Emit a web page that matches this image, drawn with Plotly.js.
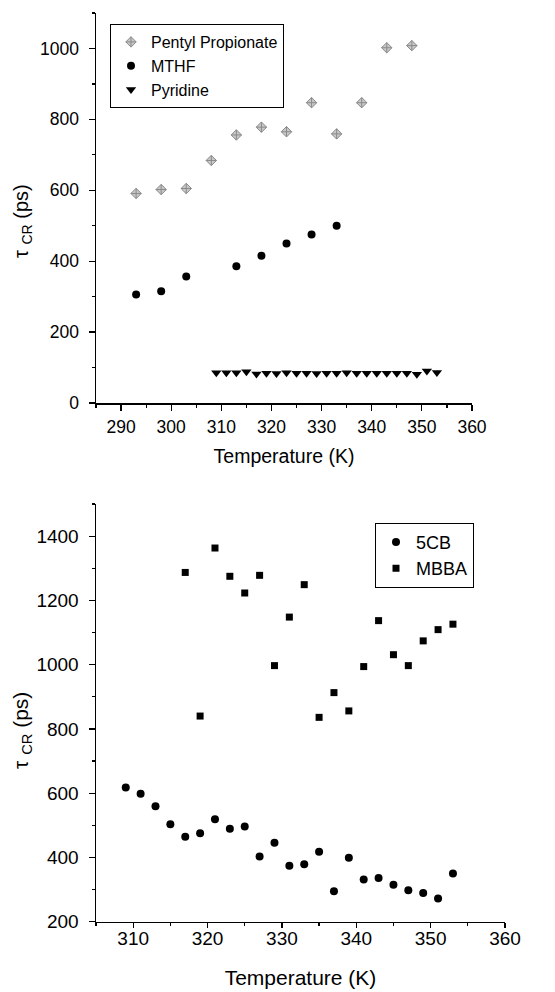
<!DOCTYPE html>
<html>
<head>
<meta charset="utf-8">
<script src="https://cdn.plot.ly/plotly-3.0.1.min.js"></script>
<style>html,body{margin:0;padding:0;background:#fff;}#chart{width:555px;height:992px;}</style>
</head>
<body>
<div id="chart"></div>
<script>
// ---- Top panel data ----
const pentylT = [293, 298, 303, 308, 313, 318, 323, 328, 333, 338, 343, 348];
const pentylTau = [591, 602, 605, 684, 756, 778, 765, 847, 759, 847, 1002, 1008];
const mthfT = [293, 298, 303, 313, 318, 323, 328, 333];
const mthfTau = [306, 315, 357, 386, 415, 450, 475, 500];
const pyridineT = [309, 311, 313, 315, 317, 319, 321, 323, 325, 327, 329, 331, 333, 335, 337, 339, 341, 343, 345, 347, 349, 351, 353];
const pyridineTau = [85, 85, 85, 88, 82, 84, 83, 85, 84, 84, 83, 84, 84, 85, 84, 84, 84, 84, 84, 84, 81, 90, 86];

// ---- Bottom panel data ----
const cb5T = [309, 311, 313, 315, 317, 319, 321, 323, 325, 327, 329, 331, 333, 335, 337, 339, 341, 343, 345, 347, 349, 351, 353];
const cb5Tau = [618, 598, 559, 503, 464, 475, 519, 489, 496, 403, 446, 374, 379, 418, 295, 399, 331, 336, 315, 298, 289, 272, 350];
const mbbaT = [317, 319, 321, 323, 325, 327, 329, 331, 333, 335, 337, 339, 341, 343, 345, 347, 349, 351, 353];
const mbbaTau = [1287, 840, 1363, 1275, 1223, 1278, 997, 1148, 1249, 836, 913, 856, 994, 1137, 1031, 997, 1074, 1109, 1126];

const seriesNames = ['Pentyl Propionate', 'MTHF', 'Pyridine', '5CB', 'MBBA'];
const xTitle = 'Temperature (K)';
const yTitle = 'τ <sub>CR</sub> (ps)';

const FONT = 'Liberation Sans, Arial, Helvetica, sans-serif';

const traces = [
  {x: pentylT, y: pentylTau, name: seriesNames[0], mode: 'markers', type: 'scatter', xaxis: 'x', yaxis: 'y', legend: 'legend',
   marker: {symbol: 'diamond-cross', size: 8, color: '#c8c8c8', line: {color: '#8a8a8a', width: 1}}},
  {x: mthfT, y: mthfTau, name: seriesNames[1], mode: 'markers', type: 'scatter', xaxis: 'x', yaxis: 'y', legend: 'legend',
   marker: {symbol: 'circle', size: 8, color: '#000'}},
  {x: pyridineT, y: pyridineTau, name: seriesNames[2], mode: 'markers', type: 'scatter', xaxis: 'x', yaxis: 'y', legend: 'legend',
   marker: {symbol: 'triangle-down', size: 9, color: '#000'}},
  {x: cb5T, y: cb5Tau, name: seriesNames[3], mode: 'markers', type: 'scatter', xaxis: 'x2', yaxis: 'y2', legend: 'legend2',
   marker: {symbol: 'circle', size: 8, color: '#000'}},
  {x: mbbaT, y: mbbaTau, name: seriesNames[4], mode: 'markers', type: 'scatter', xaxis: 'x2', yaxis: 'y2', legend: 'legend2',
   marker: {symbol: 'square', size: 7, color: '#000'}}
];

function axisBase(fontSize) {
  return {
    showline: true, linecolor: '#000', linewidth: 1.5,
    ticks: 'outside', ticklen: 6, tickwidth: 1.2, tickcolor: '#000',
    showgrid: false, zeroline: false,
    tickfont: {family: FONT, size: fontSize, color: '#000'},
    fixedrange: true
  };
}

const layout = {
  width: 555, height: 992,
  margin: {l: 0, r: 0, t: 0, b: 0},
  paper_bgcolor: '#fff', plot_bgcolor: '#fff',
  font: {family: FONT, color: '#000'},
  showlegend: true,
  xaxis: Object.assign(axisBase(17.5), {
    domain: [96/555, 472/555], anchor: 'y', range: [285, 360], dtick: 10, tick0: 290,
    ticklabelstandoff: 1,
    minor: {ticks: 'outside', ticklen: 3, dtick: 5, tick0: 285, tickcolor: '#000'},
    title: {text: xTitle, font: {family: FONT, size: 19.5, color: '#000'}, standoff: 14}
  }),
  yaxis: Object.assign(axisBase(17.5), {
    domain: [(992-403)/992, (992-13)/992], anchor: 'x', range: [0, 1100], dtick: 200, tick0: 0,
    ticklabelstandoff: 6,
    minor: {ticks: 'outside', ticklen: 3, dtick: 100, tick0: 0, tickcolor: '#000'}
  }),
  xaxis2: Object.assign(axisBase(19), {
    domain: [96/555, 505/555], anchor: 'y2', range: [305, 360], dtick: 10, tick0: 310,
    ticklen: 5, ticklabelstandoff: -6,
    minor: {ticks: 'outside', ticklen: 3, dtick: 5, tick0: 305, tickcolor: '#000'},
    title: {text: xTitle, font: {family: FONT, size: 21, color: '#000'}, standoff: 22}
  }),
  yaxis2: Object.assign(axisBase(19), {
    domain: [(992-921.7)/992, (992-504)/992], anchor: 'x2', range: [200, 1500], dtick: 200, tick0: 200,
    ticklabelstandoff: 6,
    minor: {ticks: 'outside', ticklen: 3, dtick: 100, tick0: 200, tickcolor: '#000'}
  }),
  legend: {
    x: 110/555, y: (992-24)/992, xanchor: 'left', yanchor: 'top',
    bordercolor: '#000', borderwidth: 1, bgcolor: '#fff',
    font: {family: FONT, size: 16, color: '#000'}, itemwidth: 30, tracegroupgap: 0
  },
  legend2: {
    x: 375/555, y: (992-522.7)/992, xanchor: 'left', yanchor: 'top',
    bordercolor: '#000', borderwidth: 1, bgcolor: '#fff',
    font: {family: FONT, size: 18, color: '#000'}, itemwidth: 30, tracegroupgap: 0
  },
  annotations: [
    {text: yTitle, xref: 'paper', yref: 'paper', x: 22/555, y: (992-221)/992, xanchor: 'center', yanchor: 'middle',
     textangle: -90, showarrow: false, font: {family: FONT, size: 20, color: '#000'}},
    {text: yTitle, xref: 'paper', yref: 'paper', x: 22/555, y: (992-731)/992, xanchor: 'center', yanchor: 'middle',
     textangle: -90, showarrow: false, font: {family: FONT, size: 21, color: '#000'}}
  ]
};

Plotly.newPlot('chart', traces, layout, {displayModeBar: false, staticPlot: true});
</script>
</body>
</html>
